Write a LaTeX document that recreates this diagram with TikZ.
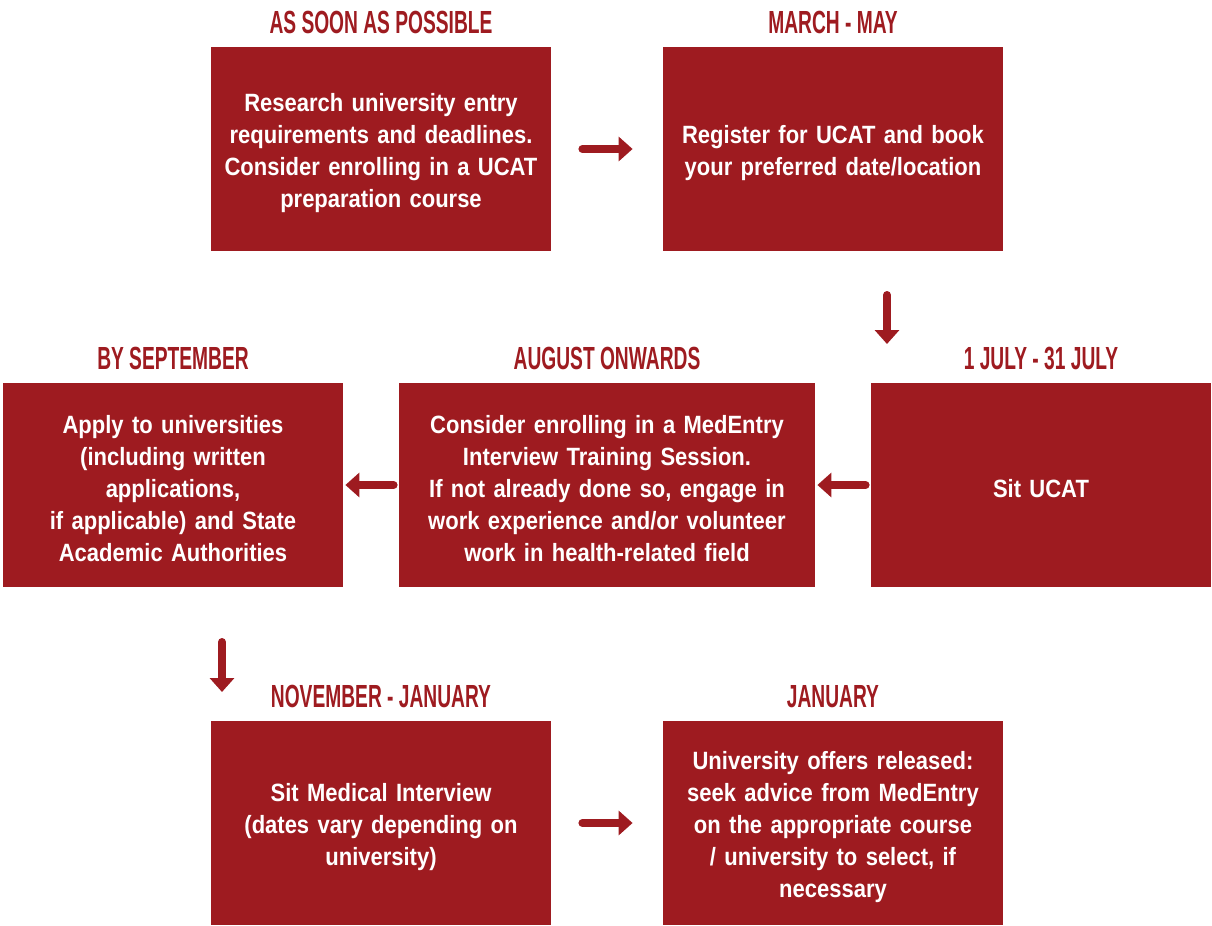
\documentclass[tikz,border=0pt]{standalone}
\usepackage{fontspec}
\setmainfont{Liberation Sans}
\newfontfamily\bodyfont[FakeStretch=0.88]{Liberation Sans}
\newfontfamily\headfont[FakeStretch=0.6]{Liberation Sans}
\usetikzlibrary{arrows.meta,positioning}
\definecolor{medred}{HTML}{9E1B20}

\begin{document}
\begin{tikzpicture}[x=0.5pt,y=-0.5pt,
    stepbox/.style={fill=medred, text=white, inner sep=0pt,
        minimum width=170pt, minimum height=102pt,
        text width=166pt, align=center,
        execute at begin node={\rule{0pt}{13pt}},
        font=\bodyfont\bfseries\fontsize{12.5}{16}\selectfont},
    widebox/.style={stepbox, minimum width=208pt, text width=204pt},
    heading/.style={text=medred, inner sep=0pt,
        font=\headfont\bfseries\fontsize{16}{18}\selectfont},
    flow/.style={draw=medred, line width=4pt, line cap=round,
        -{Triangle[width=12pt,length=7pt]}}]

    \useasboundingbox (0,0) rectangle (1212,926);

    % boxes
    \node [stepbox] (soon) at (381,149) {Research university entry\\requirements and deadlines.\\Consider enrolling in a UCAT\\preparation course};
    \node [stepbox] (march) at (833,149) {Register for UCAT and book\\your preferred date/location};
    \node [stepbox] (july) at (1041,485) {Sit UCAT};
    \node [widebox] (august) at (607,485) {Consider enrolling in a MedEntry\\Interview Training Session.\\If not already done so, engage in\\work experience and/or volunteer\\work in health-related field};
    \node [stepbox] (sept) at (173,485) {Apply to universities\\(including written\\applications,\\if applicable) and State\\Academic Authorities};
    \node [stepbox] (november) at (381,823) {Sit Medical Interview\\(dates vary depending on\\university)};
    \node [stepbox] (january) at (833,823) {University offers released:\\seek advice from MedEntry\\on the appropriate course\\/ university to select, if\\necessary};

    % headings
    \node [heading, above=6pt of soon] (soonhead) {AS SOON AS POSSIBLE};
    \node [heading, above=6pt of march] (marchhead) {MARCH - MAY};
    \node [heading, above=6pt of july] (julyhead) {1 JULY - 31 JULY};
    \node [heading, above=6pt of august] (augusthead) {AUGUST ONWARDS};
    \node [heading, above=6pt of sept] (septhead) {BY SEPTEMBER};
    \node [heading, above=6pt of november] (novemberhead) {NOVEMBER - JANUARY};
    \node [heading, above=6pt of january] (januaryhead) {JANUARY};

    % arrows
    \coordinate (dropA) at (887,295);
    \coordinate (dropB) at (887,344);
    \coordinate (dropC) at (222,642);
    \coordinate (dropD) at (222,692);

    \draw [flow, shorten <=15.5pt, shorten >=15pt] (soon) -- (march);
    \draw [flow] (dropA) -- (dropB);
    \draw [flow, shorten <=2.5pt, shorten >=1pt] (july) -- (august);
    \draw [flow, shorten <=2.5pt, shorten >=1pt] (august) -- (sept);
    \draw [flow] (dropC) -- (dropD);
    \draw [flow, shorten <=15.5pt, shorten >=15pt] (november) -- (january);

\end{tikzpicture}
\end{document}
